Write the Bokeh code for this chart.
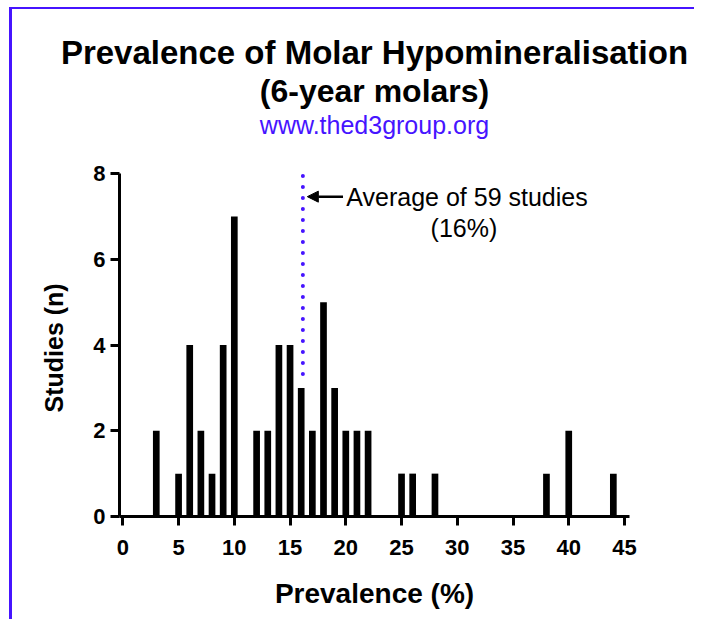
from bokeh.plotting import figure
from bokeh.models import Label, Arrow, NormalHead, FixedTicker, Range1d, Title
from bokeh.embed import file_html
from bokeh.resources import INLINE

# ---- data ----
prevalence = [3, 5, 6, 7, 8, 9, 10, 12, 13, 14, 15, 16, 17, 18, 19, 20, 21, 22,
              25, 26, 28, 38, 40, 44]
studies = [2, 1, 4, 2, 1, 4, 7, 2, 2, 4, 4, 3, 2, 5, 3, 2, 2, 2,
           1, 1, 1, 1, 2, 1]
x_ticks = [0, 5, 10, 15, 20, 25, 30, 35, 40, 45]
y_ticks = [0, 2, 4, 6, 8]
y_max = 8
average = 16.15          # position of the dotted "average" marker
average_line_bottom = 3.3
title_line1 = "Prevalence of Molar Hypomineralisation"
title_line2 = "(6-year molars)"
url_text = "www.thed3group.org"
note_line1 = "Average of 59 studies"
note_line2 = "(16%)"
x_label = "Prevalence (%)"
y_label = "Studies (n)"

FONT = "Liberation Sans"
BLUE = "#4614ff"

# layout (pixels)
W, H = 685, 612
BORDER_L, BORDER_R, BORDER_T, BORDER_B = 107, 68, 99, 105
FRAME_W = W - BORDER_L - BORDER_R          # 510
FRAME_H = H - BORDER_T - BORDER_B          # frame also holds the url line
AXIS_H = 343                               # pixel height of the 0..8 axis
FRAME_BOTTOM = H - BORDER_B                # canvas y of the frame bottom

p = figure(width=W, height=H,
           x_range=Range1d(-0.3, 45.45),
           y_range=Range1d(0, y_max * FRAME_H / AXIS_H),
           output_backend="svg", toolbar_location=None,
           min_border_left=BORDER_L, min_border_right=BORDER_R,
           min_border_top=BORDER_T, min_border_bottom=BORDER_B,
           background_fill_color="white", border_fill_color="white",
           outline_line_color=None)
p.styles = {"border-left": f"3px solid {BLUE}", "border-top": f"2px solid {BLUE}",
            "margin-left": "9px", "margin-top": "7px"}
p.grid.visible = False

# titles: second line nearest the frame, first line above it
p.add_layout(Title(text=title_line2, align="center", standoff=0,
                   text_font=FONT, text_font_size="32px", text_font_style="bold",
                   text_color="black"), "above")
p.add_layout(Title(text=title_line1, align="center", standoff=0,
                   text_font=FONT, text_font_size="33px", text_font_style="bold",
                   text_color="black"), "above")

for ax in (p.xaxis[0], p.yaxis[0]):
    ax.axis_line_width = 3
    ax.axis_line_color = "black"
    ax.major_tick_line_width = 3
    ax.major_tick_line_color = "black"
    ax.major_tick_in = 0
    ax.major_tick_out = 9
    ax.minor_tick_line_color = None
    ax.major_label_text_font = FONT
    ax.major_label_text_font_style = "bold"
    ax.major_label_text_font_size = "22px"
    ax.major_label_text_color = "black"
    ax.axis_label_text_font = FONT
    ax.axis_label_text_font_style = "bold"
    ax.axis_label_text_color = "black"

p.xaxis.ticker = FixedTicker(ticks=x_ticks)
p.yaxis.ticker = FixedTicker(ticks=y_ticks)
p.yaxis.bounds = (0, y_max)
p.xaxis.axis_label = x_label
p.xaxis.axis_label_text_font_size = "28px"
p.xaxis.major_label_standoff = 14
p.yaxis.major_label_standoff = 5
p.xaxis.axis_label_standoff = 20

# y-axis title, placed along the 0..8 part of the axis (starts 104 px above the frame bottom)
p.add_layout(Title(text=y_label, align="left", offset=104, vertical_align="bottom",
                   standoff=46, text_font=FONT, text_font_size="25px",
                   text_font_style="bold", text_color="black"), "left")

# url line, inside the (taller) frame above the axis
p.add_layout(Label(x=FRAME_W / 2, y=FRAME_BOTTOM - 115, x_units="screen", y_units="screen",
                   text=url_text, text_font=FONT, text_font_size="25px",
                   text_align="center", text_baseline="middle", text_color=BLUE))

# bars
p.vbar(x=prevalence, top=studies, width=0.6, fill_color="black", line_color=None)

# dotted average line
p.segment(x0=[average], y0=[y_max - 0.06], x1=[average], y1=[average_line_bottom],
          line_color=BLUE, line_width=4, line_dash="0 11", line_cap="round")

# arrow + note
p.add_layout(Arrow(end=NormalHead(size=11, fill_color="black", line_color="black", line_width=1),
                   x_start=average + 3.6, y_start=7.46, x_end=average + 0.4, y_end=7.46,
                   line_color="black", line_width=2.5))
p.add_layout(Label(x=average + 3.9, y=7.46, text=note_line1, text_font=FONT,
                   text_font_size="25px", text_align="left", text_baseline="middle",
                   text_color="black"))
p.add_layout(Label(x=30.6, y=6.74, text=note_line2, text_font=FONT,
                   text_font_size="25px", text_align="center", text_baseline="middle",
                   text_color="black"))

open("out.html", "w").write(file_html(p, INLINE))
